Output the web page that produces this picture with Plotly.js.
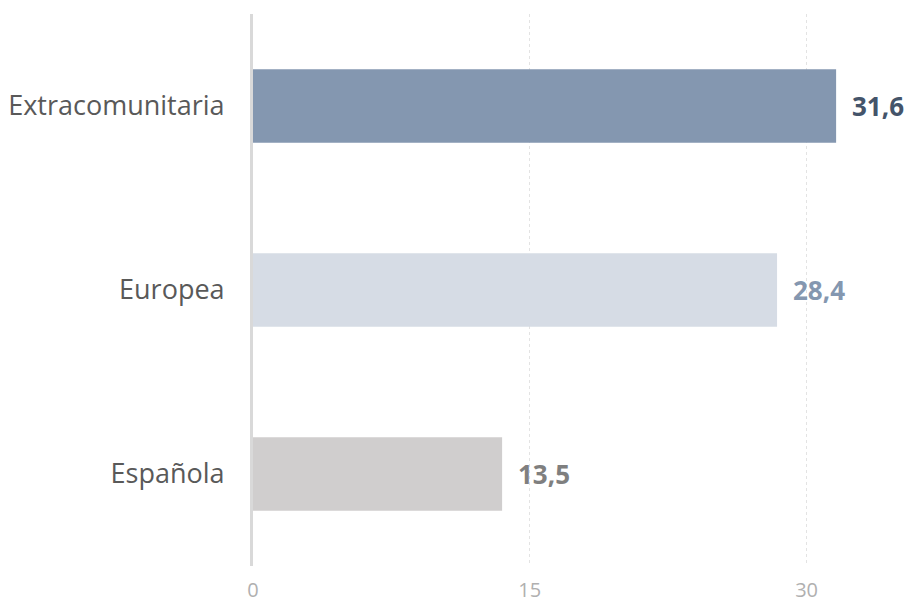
<!DOCTYPE html>
<html>
<head>
<meta charset="utf-8">
<script src="https://cdn.plot.ly/plotly-3.0.1.min.js"></script>
<style>html,body{margin:0;padding:0;background:#fff;}#chart{width:908px;height:605px;}</style>
</head>
<body>
<div id="chart"></div>
<script>
const categories = ["Extracomunitaria", "Europea", "Española"];
const values = [31.6, 28.4, 13.5];
const valueLabels = ["31,6", "28,4", "13,5"];
const barColors = ["#8497b0", "#d6dce5", "#d0cece"];
const labelColors = ["#44546a", "#8497b0", "#7f7f7f"];
const xTicks = [0, 15, 30];

const trace = {
  type: "bar",
  orientation: "h",
  y: categories,
  x: values,
  width: 0.4,
  marker: {color: barColors},
  hoverinfo: "skip"
};

const annotations = categories.map((c, i) => ({
  x: values[i], y: c, xref: "x", yref: "y",
  text: valueLabels[i], showarrow: false,
  xanchor: "left", yanchor: "middle", xshift: 14,
  font: {family: "'Open Sans', sans-serif", size: 26, color: labelColors[i], weight: "bold"}
}));

const layout = {
  width: 908, height: 605,
  margin: {l: 253, r: 11, t: 14, b: 39},
  paper_bgcolor: "#ffffff", plot_bgcolor: "#ffffff",
  showlegend: false,
  font: {family: "'Open Sans', sans-serif"},
  annotations: annotations,
  xaxis: {
    range: [0, 34.9],
    tickvals: xTicks,
    ticktext: xTicks.map(String),
    showgrid: true, gridcolor: "#e3e3e3", griddash: "dot", gridwidth: 1,
    zeroline: false, showline: false,
    ticks: "outside", ticklen: 6, tickcolor: "rgba(0,0,0,0)",
    tickfont: {size: 20, color: "#b0b0b0"}
  },
  yaxis: {
    categoryorder: "array", categoryarray: categories.slice().reverse(),
    showgrid: false, zeroline: false,
    showline: true, linecolor: "#d9d9d9", linewidth: 3,
    ticks: "outside", ticklen: 20, tickcolor: "rgba(0,0,0,0)",
    tickfont: {size: 27, color: "#595959"}
  }
};

Plotly.newPlot("chart", [trace], layout, {staticPlot: true, displayModeBar: false});
</script>
</body>
</html>
